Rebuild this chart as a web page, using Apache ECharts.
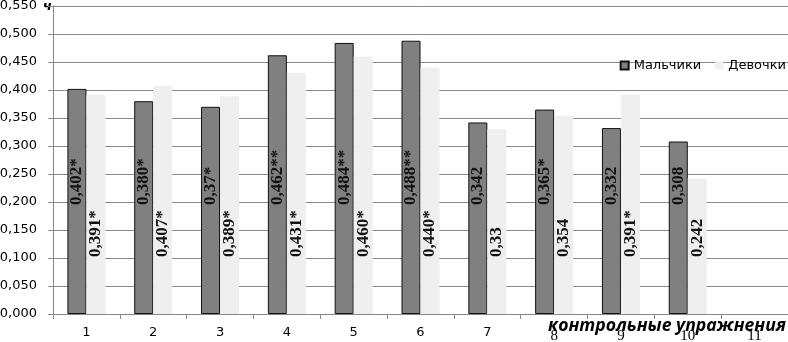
<!DOCTYPE html>
<html>
<head>
<meta charset="utf-8">
<script src="https://cdn.jsdelivr.net/npm/echarts@6/dist/echarts.min.js"></script>
<style>
html,body{margin:0;padding:0;background:#fff;}
#chart{width:788px;height:342px;}
</style>
</head>
<body>
<div id="chart"></div>
<script>
const categories = ['1','2','3','4','5','6','7','8','9','10','11'];
const boys = [0.402, 0.380, 0.370, 0.462, 0.484, 0.488, 0.342, 0.365, 0.332, 0.308, null];
const girls = [0.391, 0.407, 0.389, 0.431, 0.460, 0.440, 0.330, 0.354, 0.391, 0.242, null];
const boysLabels = ['0,402*','0,380*','0,37*','0,462**','0,484**','0,488**','0,342','0,365*','0,332','0,308',''];
const girlsLabels = ['0,391*','0,407*','0,389*','0,431*','0,460*','0,440*','0,33','0,354','0,391*','0,242',''];
const seriesNames = ['Мальчики','Девочки'];
const yName = 'ч';
const xName = 'контрольные упражнения';

const chart = echarts.init(document.getElementById('chart'), null, {renderer:'canvas'});
const serifCats = ['8','9','10','11'];
const catData = categories.map(c => serifCats.includes(c)
  ? {value:c, textStyle:{fontFamily:'Liberation Serif', fontSize:15, padding:[3,0,0,0]}}
  : c);

const labelBase = {
  show:true, rotate:90, position:'insideBottom', align:'left', verticalAlign:'middle',
  fontFamily:'Liberation Serif', fontWeight:'bold', fontSize:17, color:'#111'
};

chart.setOption({
  animation:false,
  grid:{left:53, right:0, top:6, bottom:28, containLabel:false, outerBoundsMode:'none'},
  legend:{
    data:seriesNames, right:2, top:59, padding:0, itemWidth:8, itemHeight:8, itemGap:14,
    icon:'rect', textStyle:{fontFamily:'DejaVu Sans', fontSize:13, color:'#000'}
  },
  xAxis:{
    type:'category', data:catData,
    axisLine:{lineStyle:{color:'#888', width:1}},
    axisTick:{show:true, length:5, lineStyle:{color:'#888'}},
    axisLabel:{fontFamily:'DejaVu Sans', fontSize:13, color:'#000', margin:12}
  },
  yAxis:{
    type:'value', min:0, max:0.55, interval:0.05,
    axisLine:{show:true, lineStyle:{color:'#888', width:1}},
    axisTick:{show:true, length:5, lineStyle:{color:'#888'}},
    splitLine:{show:true, lineStyle:{color:'#8a8a8a', width:1}},
    axisLabel:{fontFamily:'DejaVu Sans', fontSize:13, color:'#000', margin:16,
      formatter:v => v.toFixed(3).replace('.', ',')}
  },
  graphic:[
    {type:'text', left:43, top:0, style:{text:yName, font:'italic bold 13px "DejaVu Sans"', fill:'#000'}},
    {type:'text', right:2, top:317, style:{text:xName, font:'italic bold 17.6px "Open Sans"', fill:'#000'}}
  ],
  series:[
    {name:seriesNames[0], type:'bar', data:boys, barWidth:19, barGap:'0%',
     itemStyle:{color:'#808080', borderColor:'#111', borderWidth:1},
     label:Object.assign({}, labelBase, {distance:109, formatter:p => boysLabels[p.dataIndex]})},
    {name:seriesNames[1], type:'bar', data:girls, barWidth:19,
     itemStyle:{color:'#efefef'},
     label:Object.assign({}, labelBase, {distance:57, formatter:p => girlsLabels[p.dataIndex]})}
  ]
});
</script>
</body>
</html>
